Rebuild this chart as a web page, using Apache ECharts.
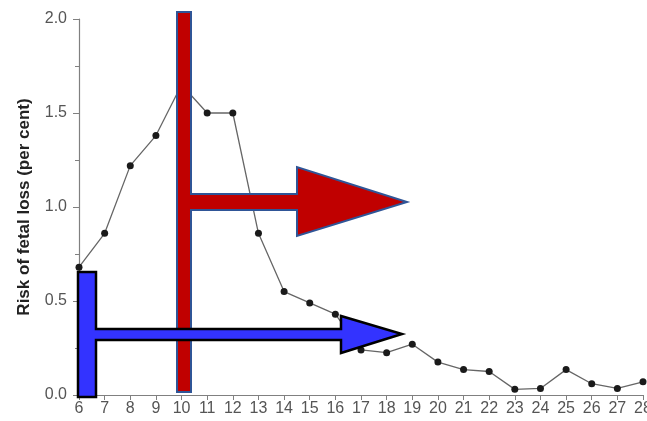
<!DOCTYPE html>
<html>
<head>
<meta charset="utf-8">
<script src="https://cdn.jsdelivr.net/npm/echarts@6/dist/echarts.min.js"></script>
<style>html,body{margin:0;padding:0;background:#fff}#c{width:647px;height:421px}</style>
</head>
<body>
<div id="c"></div>
<script>
const weeks = [6,7,8,9,10,11,12,13,14,15,16,17,18,19,20,21,22,23,24,25,26,27,28];
const risk = [0.68,0.86,1.22,1.38,1.65,1.5,1.5,0.86,0.55,0.49,0.43,0.24,0.225,0.27,0.175,0.135,0.125,0.03,0.035,0.135,0.06,0.035,0.07];
const yLabel = 'Risk of fetal loss (per cent)';

const chart = echarts.init(document.getElementById('c'), null, {renderer: 'canvas'});
const axisGray = '#808080';
chart.setOption({
  animation: false,
  grid: {left: 79, right: 4, top: 19, bottom: 26, containLabel: false, outerBoundsMode: 'none'},
  xAxis: {
    type: 'value', min: 6, max: 28, interval: 1,
    axisLine: {show: true, lineStyle: {color: axisGray, width: 1.2}},
    axisTick: {show: true, length: 5, lineStyle: {color: axisGray}},
    axisLabel: {color: '#555', fontSize: 16, fontFamily: 'Liberation Sans', margin: 6, hideOverlap: false},
    splitLine: {show: false}
  },
  yAxis: {
    type: 'value', min: 0, max: 2, interval: 0.5,
    name: yLabel, nameLocation: 'middle', nameGap: 46,
    nameTextStyle: {color: '#222', fontSize: 17, fontWeight: 'bold', fontFamily: 'Liberation Sans'},
    axisLine: {show: true, lineStyle: {color: axisGray, width: 1.2}},
    axisTick: {show: true, length: 6, lineStyle: {color: axisGray}},
    minorTick: {show: true, splitNumber: 2, length: 4, lineStyle: {color: axisGray}},
    axisLabel: {color: '#555', fontSize: 16, fontFamily: 'Liberation Sans', margin: 12,
      formatter: v => v.toFixed(1)},
    splitLine: {show: false}
  },
  series: [{
    type: 'line',
    data: weeks.map((w, i) => [w, risk[i]]),
    symbol: 'circle', symbolSize: 7,
    itemStyle: {color: '#1a1a1a'},
    lineStyle: {color: '#666', width: 1.3},
    z: 2
  }],
  graphic: [
    {
      type: 'polygon', z: 100,
      shape: {points: [[177,12],[191,12],[191,194],[297,194],[297,167],[407,202],[297,236],[297,210],[191,210],[191,392],[177,392]]},
      style: {fill: '#c00000', stroke: '#2f5597', lineWidth: 2}
    },
    {
      type: 'polygon', z: 100,
      shape: {points: [[78,272],[96,272],[96,329],[341,329],[341,316],[402,334],[341,353],[341,340],[96,340],[96,397],[78,397]]},
      style: {fill: '#3333ff', stroke: '#000', lineWidth: 2.5}
    }
  ]
});
</script>
</body>
</html>
